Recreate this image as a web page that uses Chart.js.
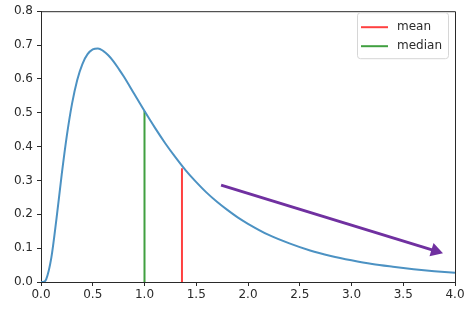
<!DOCTYPE html>
<html>
<head>
<meta charset="utf-8">
<script src="https://cdn.jsdelivr.net/npm/chart.js@4"></script>
<style>
  html, body { margin: 0; padding: 0; background: #fff; }
  #wrap { width: 471px; height: 312px; }
</style>
</head>
<body>
<div id="wrap"><canvas id="pdfChart" width="471" height="312"></canvas></div>
<script>
/* =========================
   DATA
========================= */
const curveX = [0, 0.02, 0.05, 0.1, 0.15, 0.2, 0.25, 0.3, 0.35, 0.4, 0.45, 0.5, 0.55, 0.6, 0.65, 0.7, 0.75, 0.8, 0.9,
  1.0, 1.1, 1.2, 1.3, 1.4, 1.5, 1.6, 1.7, 1.8, 1.9, 2.0, 2.2, 2.4, 2.6, 2.8, 3.0, 3.2, 3.4, 3.6, 3.8, 4.0];
const curveY = [0, 0.0001, 0.008, 0.072, 0.188, 0.317, 0.433, 0.527, 0.597, 0.644, 0.673, 0.687, 0.690, 0.683, 0.670, 0.652, 0.630, 0.607, 0.556,
  0.505, 0.456, 0.410, 0.368, 0.329, 0.295, 0.264, 0.237, 0.213, 0.191, 0.172, 0.139, 0.114, 0.093, 0.077, 0.064, 0.053, 0.045, 0.038, 0.032, 0.027];

const meanX = [1.362, 1.362];
const meanY = [0, 0.336];
const medianX = [1.0, 1.0];
const medianY = [0, 0.505];

const arrowX = [1.74, 3.81];
const arrowY = [0.286, 0.092];

const legendLabels = ["mean", "median"];
const xTicks = [0, 0.5, 1, 1.5, 2, 2.5, 3, 3.5, 4];
const yTicks = [0, 0.1, 0.2, 0.3, 0.4, 0.5, 0.6, 0.7, 0.8];

/* =========================
   STYLE
========================= */
const BLUE = "#4c92c3";
const RED = "#ff4040";
const GREEN = "#40a040";
const PURPLE = "#7030a0";
const INK = "#2a2a2a";
const FONT = { family: "'DejaVu Sans', sans-serif", size: 12 };

function toPoints(xs, ys) {
  return xs.map((x, i) => ({ x: x, y: ys[i] }));
}

/* =========================
   PLUGINS
========================= */
// top + right spines like matplotlib
const frame = {
  id: "frame",
  afterDraw(chart) {
    const { ctx, chartArea: a } = chart;
    ctx.save();
    ctx.strokeStyle = INK;
    ctx.lineWidth = 1;
    ctx.beginPath();
    ctx.moveTo(a.left, a.top + 0.5);
    ctx.lineTo(a.right + 0.5, a.top + 0.5);
    ctx.lineTo(a.right + 0.5, a.bottom);
    ctx.stroke();
    ctx.restore();
  }
};

// legend box inside the plot, upper right
const innerLegend = {
  id: "innerLegend",
  afterDraw(chart) {
    const { ctx, chartArea: a } = chart;
    const colors = [RED, GREEN];
    const boxW = 91, boxH = 46;
    const bx = a.right - 7 - boxW;
    const by = a.top + 1;
    ctx.save();
    ctx.fillStyle = "rgba(255,255,255,0.8)";
    ctx.strokeStyle = "#d6d6d6";
    ctx.lineWidth = 1;
    ctx.beginPath();
    ctx.roundRect(bx + 0.5, by + 0.5, boxW, boxH, 3);
    ctx.fill();
    ctx.stroke();
    ctx.font = FONT.size + "px " + FONT.family;
    ctx.textBaseline = "middle";
    legendLabels.forEach((label, i) => {
      const y = by + 15 + i * 19;
      ctx.strokeStyle = colors[i];
      ctx.lineWidth = 2;
      ctx.beginPath();
      ctx.moveTo(bx + 4, y);
      ctx.lineTo(bx + 31, y);
      ctx.stroke();
      ctx.fillStyle = INK;
      ctx.fillText(label, bx + 40, y);
    });
    ctx.restore();
  }
};

/* =========================
   CHART
========================= */
new Chart(document.getElementById("pdfChart"), {
  type: "line",
  data: {
    datasets: [
      {
        label: "pdf",
        data: toPoints(curveX, curveY),
        borderColor: BLUE,
        borderWidth: 2,
        pointRadius: 0,
        cubicInterpolationMode: "monotone"
      },
      {
        label: legendLabels[0],
        data: toPoints(meanX, meanY),
        borderColor: RED,
        borderWidth: 2,
        pointRadius: 0
      },
      {
        label: legendLabels[1],
        data: toPoints(medianX, medianY),
        borderColor: GREEN,
        borderWidth: 2,
        pointRadius: 0
      },
      {
        label: "arrow",
        data: toPoints(arrowX, arrowY),
        borderColor: PURPLE,
        backgroundColor: PURPLE,
        borderWidth: 3,
        pointStyle: "triangle",
        pointRadius: [0, 8],
        pointBorderWidth: 0,
        pointRotation: 107
      }
    ]
  },
  options: {
    responsive: false,
    animation: false,
    events: [],
    layout: { padding: { top: 11, right: 16, left: 0, bottom: 0 } },
    plugins: {
      legend: { display: false },
      tooltip: { enabled: false }
    },
    scales: {
      x: {
        type: "linear",
        min: 0,
        max: 4,
        afterBuildTicks: s => { s.ticks = xTicks.map(v => ({ value: v })); },
        afterFit: s => { s.height = 30; },
        ticks: {
          color: INK,
          font: FONT,
          padding: 2,
          maxRotation: 0,
          callback: v => v.toFixed(1)
        },
        grid: { drawOnChartArea: false, drawTicks: true, tickLength: 4, tickColor: INK },
        border: { display: true, color: INK, width: 1 }
      },
      y: {
        type: "linear",
        min: 0,
        max: 0.8,
        afterBuildTicks: s => { s.ticks = yTicks.map(v => ({ value: v })); },
        afterFit: s => { s.width = 41; },
        ticks: {
          color: INK,
          font: FONT,
          padding: 4,
          callback: v => v.toFixed(1)
        },
        grid: { drawOnChartArea: false, drawTicks: true, tickLength: 4, tickColor: INK },
        border: { display: true, color: INK, width: 1 }
      }
    }
  },
  plugins: [frame, innerLegend]
});
</script>
</body>
</html>
